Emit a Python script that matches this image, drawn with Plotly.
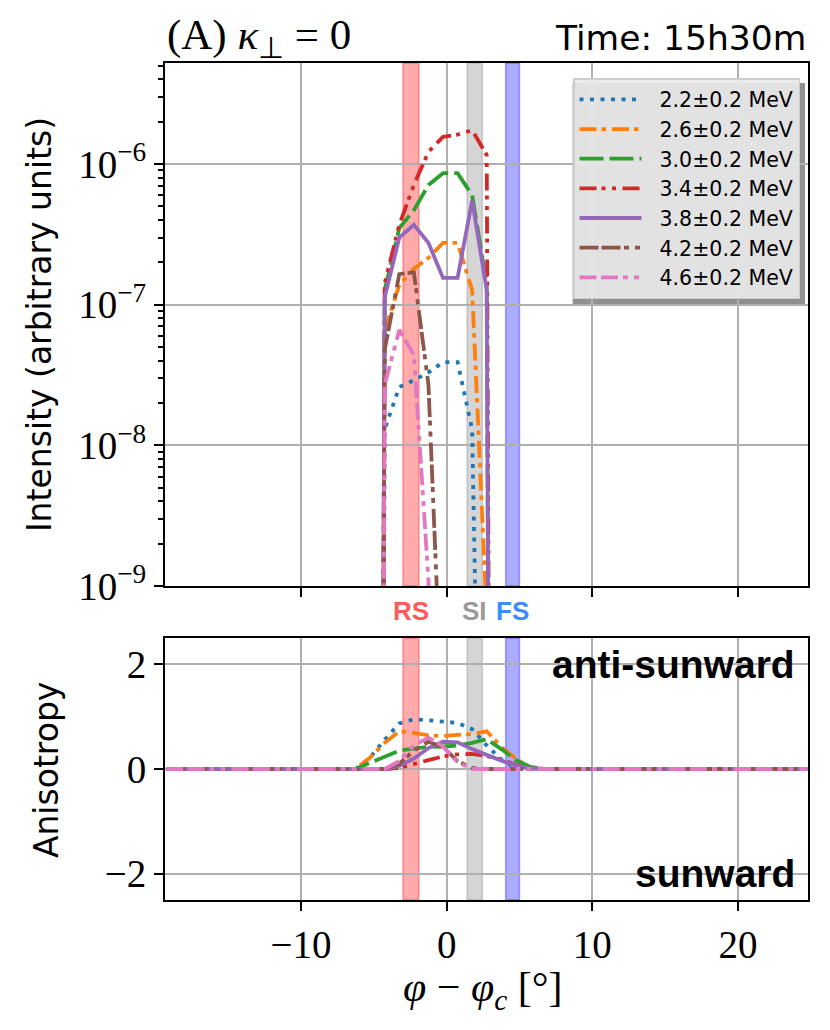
import numpy as np
import plotly.graph_objects as go

# ---------------- data ----------------
energies = ["2.2", "2.6", "3.0", "3.4", "3.8", "4.2", "4.6"]
colors = ["#1f77b4", "#ff7f0e", "#2ca02c", "#d62728", "#9467bd", "#8c564b", "#e377c2"]
dashes = ["4px,6.5px", "17px,5px,4.5px,6px", "24px,6px", "17px,5px,4px,6.5px,4px,6.5px",
          "solid", "19px,3px,19px,3.5px,5px,6px,5px,6px", "17px,4.5px,17px,5px,5px,6px,5px,6px"]

# longitude grid (deg) of the simulation output
phi_start, phi_stop = -19.25, 24.75

# intensity (arbitrary units), non-zero window
phi_int = [-4.25, -3.25, -2.25, -1.25, -0.25, 0.75, 1.75, 2.75]
int_22 = [1.3e-8, 2.6e-8, 2.9e-8, 3.3e-8, 3.9e-8, 3.9e-8, 1.3e-8, 0.0]
int_26 = [6.6e-8, 1.38e-7, 1.8e-7, 2.15e-7, 2.75e-7, 2.75e-7, 1.27e-7, 6e-10]
int_30 = [1.27e-7, 3.5e-7, 4.7e-7, 7.1e-7, 8.6e-7, 8.6e-7, 6.0e-7, 1.38e-7]
int_34 = [1.42e-7, 3.7e-7, 7.1e-7, 1.22e-6, 1.56e-6, 1.62e-6, 1.74e-6, 1.16e-6]
int_38 = [1.13e-7, 3.0e-7, 3.7e-7, 2.75e-7, 1.55e-7, 1.55e-7, 5.5e-7, 1.27e-7]
int_42 = [4.8e-8, 1.65e-7, 1.7e-7, 2.7e-8, 8e-11, 0.0, 0.0, 0.0]
int_46 = [2.7e-8, 6.6e-8, 4.4e-8, 1.1e-9, 0.0, 0.0, 0.0, 0.0]

# anisotropy, non-zero window
phi_ani = [-7.25, -6.25, -5.25, -4.25, -3.25, -2.25, -1.25, -0.25, 0.75, 1.75, 2.75,
           3.75, 4.75, 5.75, 6.75, 7.75]
ani_22 = [0, 0, 0.22, 0.56, 0.87, 0.95, 0.93, 0.90, 0.88, 0.76, 0.45, 0.18, 0.02, 0, 0, 0]
ani_26 = [0, 0, 0.22, 0.50, 0.72, 0.69, 0.64, 0.63, 0.65, 0.67, 0.72, 0.42, 0.20, 0.02, 0, 0]
ani_30 = [0, 0, 0.12, 0.24, 0.35, 0.39, 0.42, 0.43, 0.45, 0.50, 0.57, 0.38, 0.17, 0.04, 0, 0]
ani_34 = [0, 0, 0, 0, 0.02, 0.10, 0.17, 0.24, 0.28, 0.29, 0.25, 0.18, 0.08, 0, 0, 0]
ani_38 = [0, 0, 0, 0, 0.06, 0.20, 0.40, 0.52, 0.51, 0.38, 0.27, 0.16, 0.07, 0.01, 0, 0]
ani_42 = [0, 0, 0, 0, 0.10, 0.35, 0.52, 0.42, 0.15, 0.02, 0, 0, 0, 0, 0, 0]
ani_46 = [0, 0, 0, 0, 0.15, 0.45, 0.60, 0.43, 0.13, 0, 0, 0, 0, 0, 0, 0]

intensities = [int_22, int_26, int_30, int_34, int_38, int_42, int_46]
anisotropies = [ani_22, ani_26, ani_30, ani_34, ani_38, ani_42, ani_46]

# shock / interface positions (deg)
band_names = ["RS", "SI", "FS"]
band_lo = [-3.0, 1.4, 4.05]
band_hi = [-1.9, 2.45, 5.0]
band_fill = ["rgba(255,0,0,0.33)", "rgba(128,128,128,0.33)", "rgba(0,0,255,0.33)"]
band_text = ["#ff5a5a", "#9a9a9a", "#3d8bff"]

x_ticks = [-10, 0, 10, 20]
x_ticktext = ["\u221210", "0", "10", "20"]
y_ticks = [1e-9, 1e-8, 1e-7, 1e-6]
y_ticktext = ["10<sup>\u22129</sup>", "10<sup>\u22128</sup>", "10<sup>\u22127</sup>", "10<sup>\u22126</sup>"]
a_ticks = [-2, 0, 2]
a_ticktext = ["\u22122", "0", "2"]

# ---------------- build full series ----------------
phi = np.arange(phi_start, phi_stop + 0.5, 1.0)


def on_grid(xs, vals):
    out = np.zeros_like(phi)
    for x, v in zip(xs, vals):
        out[np.argmin(np.abs(phi - x))] = v
    return out


fig = go.Figure()
for i, e in enumerate(energies):
    inten = on_grid(phi_int, intensities[i])
    inten = np.where(inten > 0, inten, 1e-30)  # non-positive clipped like a log plot
    fig.add_trace(go.Scatter(
        x=phi, y=inten, mode="lines", name="\u00a0\u00a0" + f"{e}\u00b10.2 MeV",
        line=dict(color=colors[i], width=3.8, dash=dashes[i]),
        legendgroup=str(i), xaxis="x", yaxis="y"))
for i, e in enumerate(energies):
    fig.add_trace(go.Scatter(
        x=phi, y=on_grid(phi_ani, anisotropies[i]), mode="lines", showlegend=False,
        line=dict(color=colors[i], width=3.8, dash=dashes[i]),
        xaxis="x2", yaxis="y2"))

serif = "Liberation Serif"
sans = "DejaVu Sans"

shapes = []
for k in range(len(band_names)):
    for xr, yr in (("x", "y domain"), ("x2", "y2 domain")):
        shapes.append(dict(type="rect", xref=xr, yref=yr, x0=band_lo[k], x1=band_hi[k],
                           y0=0, y1=1, fillcolor=band_fill[k],
                           line=dict(color=band_fill[k], width=1.5), layer="below"))
# legend drop shadow
shapes.append(dict(type="rect", xref="paper", yref="paper", x0=0.634, x1=0.9953,
                   y0=0.7105, y1=0.976, fillcolor="rgba(70,70,70,0.6)",
                   line=dict(width=0), layer="below"))

minor_vals = [m * 10.0 ** p for p in range(-9, -5) for m in range(2, 10)]

axis_common = dict(showline=True, linecolor="black", linewidth=2, mirror=True,
                   ticks="outside", ticklen=9, tickwidth=2, tickcolor="black",
                   showgrid=True, gridcolor="#b0b0b0", gridwidth=1.5, zeroline=False,
                   tickfont=dict(family=serif, size=39, color="black"))

fig.update_layout(
    width=830, height=1030,
    margin=dict(l=165, r=22, t=63, b=130),
    paper_bgcolor="white", plot_bgcolor="rgba(0,0,0,0)",
    xaxis=dict(domain=[0, 1], anchor="y", range=[-19.33, 24.8], tickvals=x_ticks,
               showticklabels=False, matches="x2", **axis_common),
    yaxis=dict(domain=[0.3751, 1], anchor="x", type="log", range=[-9, -5.282],
               tickvals=y_ticks, ticktext=y_ticktext,
               minor=dict(tickvals=minor_vals, ticks="outside", ticklen=5,
                          tickwidth=1.5, tickcolor="black", showgrid=False),
               **axis_common),
    xaxis2=dict(domain=[0, 1], anchor="y2", range=[-19.33, 24.8], tickvals=x_ticks,
                ticktext=x_ticktext, **axis_common),
    yaxis2=dict(domain=[0, 0.313], anchor="x2", range=[-2.5, 2.5], tickvals=a_ticks,
                ticktext=a_ticktext, **axis_common),
    shapes=shapes,
    showlegend=True,
    legend=dict(x=0.9876, y=0.982, xanchor="right", yanchor="top",
                bgcolor="rgba(233,233,233,0.92)", bordercolor="#cccccc", borderwidth=1.5,
                font=dict(family=sans, size=20.5, color="black"),
                itemwidth=62, tracegroupgap=9, traceorder="normal"),
)

ann = []
ann.append(dict(text="(A) <i>\u03ba</i><sub>\u22a5</sub>\u00a0= 0", xref="paper", yref="paper",
                x=0, y=1.03, xanchor="left", yanchor="middle", showarrow=False,
                font=dict(family=serif, size=43, color="black")))
ann.append(dict(text="Time: 15h30m", xref="paper", yref="paper", x=1, y=1.03,
                xanchor="right", yanchor="middle", showarrow=False,
                font=dict(family=sans, size=34.5, color="black")))
ann.append(dict(text="Intensity (arbitrary units)", xref="paper", yref="paper",
                x=-0.196, y=0.688, xanchor="center", yanchor="middle", textangle=-90,
                showarrow=False, font=dict(family=sans, size=33, color="black")))
ann.append(dict(text="Anisotropy", xref="paper", yref="paper",
                x=-0.184, y=0.156, xanchor="center", yanchor="middle", textangle=-90,
                showarrow=False, font=dict(family=sans, size=33, color="black")))
ann.append(dict(text="<i>\u03c6</i>\u00a0\u2212\u00a0<i>\u03c6</i><sub><i>c</i></sub>\u00a0[\u00b0]",
                xref="paper", yref="paper", x=0.494, y=-0.107, xanchor="center",
                yanchor="middle", showarrow=False,
                font=dict(family=serif, size=42, color="black")))
for k in range(len(band_names)):
    ann.append(dict(text=f"<b>{band_names[k]}</b>", xref="x", yref="paper",
                    x=(band_lo[k] + band_hi[k]) / 2, y=0.3453,
                    xanchor="center", yanchor="middle", showarrow=False,
                    font=dict(family="Liberation Sans", size=26, color=band_text[k])))
ann.append(dict(text="<b>anti-sunward</b>", xref="x2 domain", yref="y2", x=0.983, y=2,
                xanchor="right", yanchor="middle", showarrow=False,
                font=dict(family="Liberation Sans", size=39, color="black")))
ann.append(dict(text="<b>sunward</b>", xref="x2 domain", yref="y2", x=0.983, y=-2,
                xanchor="right", yanchor="middle", showarrow=False,
                font=dict(family="Liberation Sans", size=39, color="black")))
fig.update_layout(annotations=ann)

fig.write_html("out.html")
